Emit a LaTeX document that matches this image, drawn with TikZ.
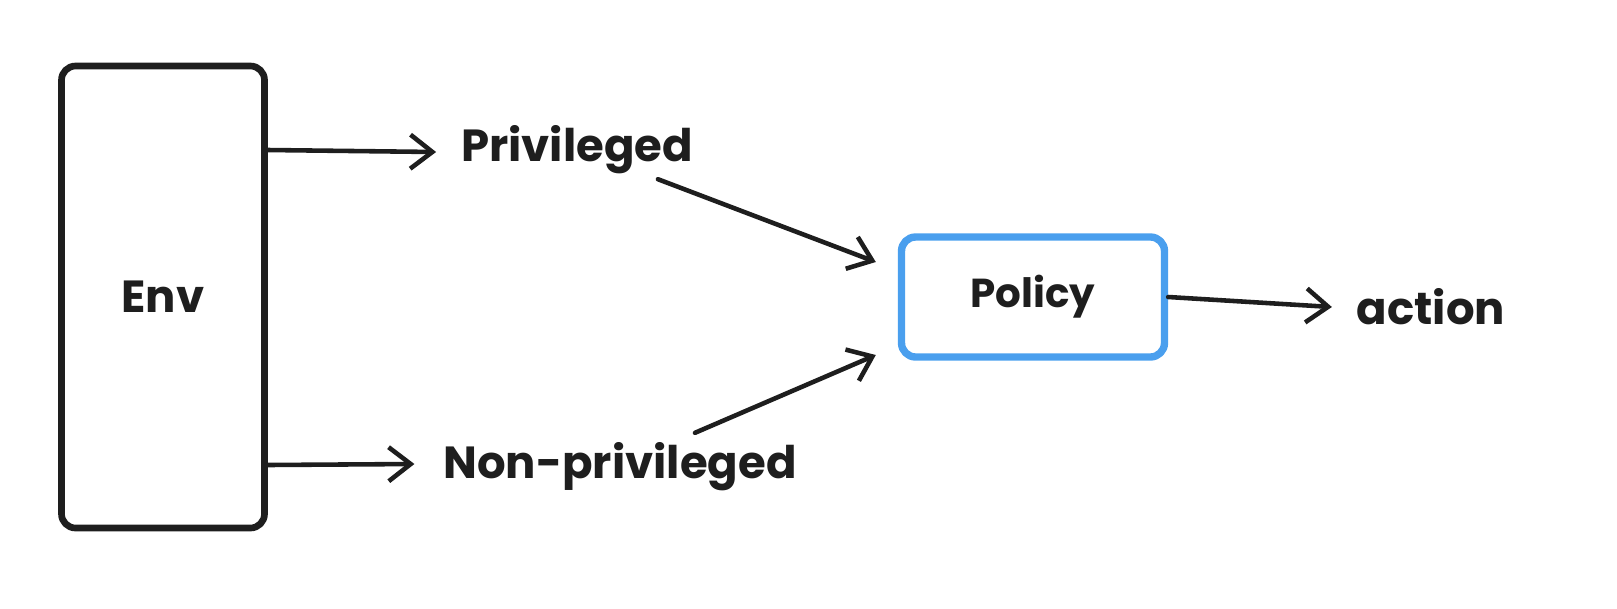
\documentclass[tikz,border=0pt]{standalone}
\usepackage{fontspec}
\setmainfont{Poppins}
\usetikzlibrary{arrows.meta,positioning}
\definecolor{ink}{HTML}{1E1E1E}
\definecolor{policyblue}{HTML}{4A9FEE}

\begin{document}
\begin{tikzpicture}[line cap=round,line join=round]
    \tikzstyle{every node}=[text=ink,font=\fontsize{12.8pt}{15pt}\selectfont\bfseries]
    \tikzstyle{block}=[draw=ink,rounded corners=4pt,inner sep=0pt]
    \tikzstyle{env block}=[block,line width=1.9pt,minimum width=2.03cm,minimum height=4.62cm]
    \tikzstyle{policy block}=[block,draw=policyblue,line width=2.1pt,minimum width=2.63cm,minimum height=1.2cm,font=\fontsize{11.5pt}{14pt}\selectfont\bfseries]
    \tikzstyle{annot}=[inner sep=0pt,outer sep=0pt]
    \tikzstyle{link}=[draw=ink,line width=1.3pt,-{Straight Barb[length=2.2mm,width=3.4mm,line width=1.3pt]}]

    \useasboundingbox (0,0) rectangle (16.17,6.08);

    % Draw the blocks
    \node[env block] (env) at (1.63,3.11) {Env};
    \node[policy block] (policy) at (10.33,3.11) {Policy};

    % Draw the observation and action labels
    \node[annot] (priv) at (5.77,4.58) {Privileged};
    \node[annot] (nonpriv) at (6.20,1.41) {Non-privileged};
    \node[annot] (act) at (14.31,3.01) {action};

    % Connect the environment with the observations
    \draw[link] (env.east |- 0,4.58) -- ([xshift=-0.25cm]priv.west |- 0,4.56);
    \draw[link] (env.east |- 0,1.43) -- ([xshift=-0.29cm]nonpriv.west |- 0,1.44);

    % Connect the observations with the policy
    \draw[link] ([xshift=-0.35cm,yshift=-0.05cm]priv.south east) -- ([shift={(-0.22,0.35)}]policy.west);
    \draw[link] ([shift={(0.75,0.10)}]nonpriv.north) -- ([shift={(-0.22,-0.58)}]policy.west);

    % Policy output
    \draw[link] (policy.east) -- ([xshift=-0.25cm]act.west);
\end{tikzpicture}
\end{document}
